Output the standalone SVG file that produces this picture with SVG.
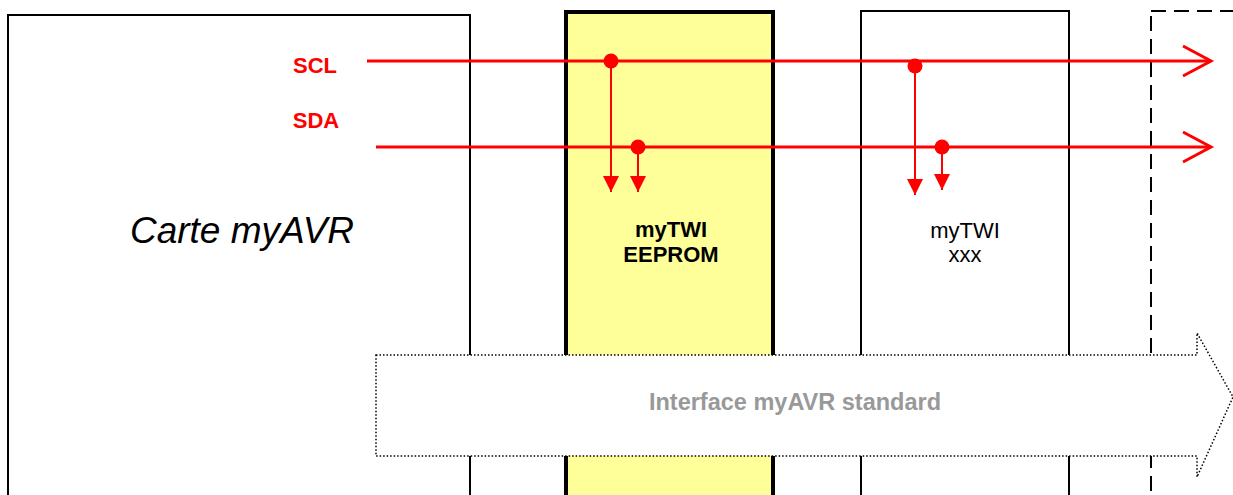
<svg xmlns="http://www.w3.org/2000/svg" width="1233" height="495" viewBox="0 0 1233 495">
<defs>
<style>
.box{fill:#fff;stroke:#000;stroke-width:2}
.sig{stroke:#ff0000;stroke-width:3;fill:none}
.tap{stroke:#ff0000;stroke-width:2;fill:none}
.dot{fill:#ff0000}
.lbl{font-family:"Liberation Sans",Arial,sans-serif;font-size:22px;text-anchor:middle}
.red{fill:#ff0000;font-weight:bold}
</style>
<marker id="tri" viewBox="0 0 16 16" refX="16" refY="8" markerWidth="16" markerHeight="16" markerUnits="userSpaceOnUse" orient="auto">
<path d="M0,0 L16,8 L0,16 Z" fill="#ff0000"/>
</marker>
</defs>
<rect width="1233" height="495" fill="#fff"/>
<g id="carte">
<rect class="box" x="8" y="15" width="462" height="500"/>
<text class="lbl" x="242" y="243" style="font-size:37px;font-style:italic">Carte myAVR</text>
</g>
<g id="eeprom">
<rect x="566" y="12" width="207" height="500" fill="#ffff99" stroke="#000" stroke-width="4"/>
<text class="lbl" x="671" y="237" font-weight="bold">myTWI</text>
<text class="lbl" x="671" y="262" font-weight="bold">EEPROM</text>
</g>
<g id="xxx">
<rect class="box" x="861" y="11" width="208" height="500"/>
<text class="lbl" x="965" y="238">myTWI</text>
<text class="lbl" x="965" y="262">xxx</text>
</g>
<g id="next">
<rect x="1151" y="11" width="200" height="500" fill="none" stroke="#000" stroke-width="2" stroke-dasharray="15 8"/>
</g>
<g id="interface">
<path d="M376,355 L1197,355 L1197,333 L1233,397 L1197,477 L1197,456 L376,456 Z" fill="#fff" stroke="#000" stroke-width="1.5" stroke-dasharray="1.5 2"/>
<text class="lbl" x="795" y="410" font-weight="bold" fill="#999999" style="font-size:23.5px">Interface myAVR standard</text>
</g>
<g id="labels">
<text class="lbl red" x="315" y="73">SCL</text>
<text class="lbl red" x="316" y="128">SDA</text>
</g>
<g id="connectors">
<line class="sig" x1="367" y1="61" x2="1211" y2="61"/>
<polyline class="sig" points="1183,46 1211,61 1183,76"/>
<line class="sig" x1="376" y1="147" x2="1211" y2="147"/>
<polyline class="sig" points="1183,132 1211,147 1183,162"/>
<line class="tap" x1="611" y1="61" x2="611" y2="192" marker-end="url(#tri)"/>
<line class="tap" x1="638" y1="147" x2="638" y2="192" marker-end="url(#tri)"/>
<line class="tap" x1="915" y1="66" x2="915" y2="195" marker-end="url(#tri)"/>
<line class="tap" x1="942" y1="147" x2="942" y2="190" marker-end="url(#tri)"/>
<circle class="dot" cx="611" cy="61" r="7.5"/>
<circle class="dot" cx="638" cy="147" r="7.5"/>
<circle class="dot" cx="915" cy="66" r="7.5"/>
<circle class="dot" cx="942" cy="147" r="7.5"/>
</g>
</svg>
